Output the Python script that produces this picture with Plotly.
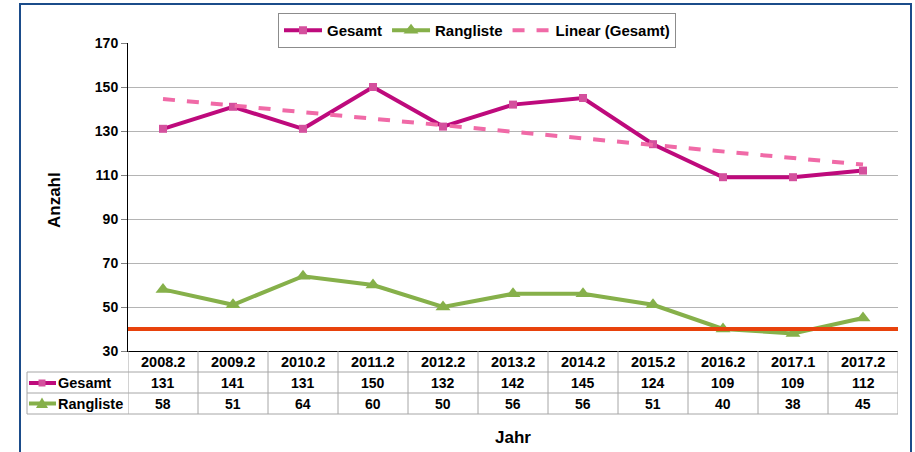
import numpy as np
import plotly.graph_objects as go

categories = ["2008.2", "2009.2", "2010.2", "2011.2", "2012.2", "2013.2",
              "2014.2", "2015.2", "2016.2", "2017.1", "2017.2"]
gesamt = [131, 141, 131, 150, 132, 142, 145, 124, 109, 109, 112]
rangliste = [58, 51, 64, 60, 50, 56, 56, 51, 40, 38, 45]
threshold = 40
y_ticks = [30, 50, 70, 90, 110, 130, 150, 170]

# Excel linear trendline of Gesamt (least squares)
xi = np.arange(len(gesamt))
slope, intercept = np.polyfit(xi, gesamt, 1)
trend = list(slope * xi + intercept)

C_GES = "#BE0A7C"
C_GES_M = "#D4509D"
C_TREND = "#F06AA7"
C_RANG = "#86B04A"
C_RED = "#E8420C"
C_GRID = "#B4B4B4"
C_TAB = "#A6A6A6"
FONT = "Liberation Sans, Arial, sans-serif"

W, H = 915, 452
L, R, T, B = 128, 898, 43, 351
pw, ph = R - L, B - T


def px(x):
    return (x - L) / pw


def py(y):
    return (B - y) / ph


fig = go.Figure()
fig.add_trace(go.Scatter(
    x=categories, y=gesamt, name="Gesamt", mode="lines+markers",
    line=dict(color=C_GES, width=4),
    marker=dict(symbol="square", size=8, color=C_GES_M)))
fig.add_trace(go.Scatter(
    x=categories, y=rangliste, name="Rangliste", mode="lines+markers",
    line=dict(color=C_RANG, width=4),
    marker=dict(symbol="triangle-up", size=13, color=C_RANG)))
fig.add_trace(go.Scatter(
    x=categories, y=trend, name="Linear (Gesamt)", mode="lines",
    line=dict(color=C_TREND, width=4, dash="dash")))

shapes = []
annotations = []

# threshold line
shapes.append(dict(type="line", xref="paper", yref="y", x0=0, x1=1,
                   y0=threshold, y1=threshold,
                   line=dict(color=C_RED, width=4), layer="above"))

# data table
row_lines = [py(372), py(393), py(414)]
for yl in row_lines:
    shapes.append(dict(type="line", xref="paper", yref="paper",
                       x0=px(27), x1=1.0, y0=yl, y1=yl,
                       line=dict(color=C_TAB, width=1)))
for i in range(len(categories) + 1):
    shapes.append(dict(type="line", xref="x", yref="paper",
                       x0=i - 0.5, x1=i - 0.5, y0=0, y1=py(414),
                       line=dict(color=C_TAB, width=1)))
shapes.append(dict(type="line", xref="paper", yref="paper",
                   x0=px(27), x1=px(27), y0=py(372), y1=py(414),
                   line=dict(color=C_TAB, width=1)))

hfont = dict(size=14.5, family=FONT, color="black", weight="bold")
tfont = dict(size=14, family=FONT, color="black", weight="bold")
row_y = [py(362), py(383), py(403.5)]
for i, c in enumerate(categories):
    for k, (ry, txt) in enumerate(zip(row_y, [c, str(gesamt[i]), str(rangliste[i])])):
        annotations.append(dict(x=i, y=ry, xref="x", yref="paper", text=txt,
                                xanchor="center", yanchor="middle",
                                showarrow=False, font=hfont if k == 0 else tfont))

# row legend keys
for name, yy, col, mcol, sym in [("Gesamt", 383, C_GES, C_GES_M, "sq"),
                                 ("Rangliste", 403.5, C_RANG, C_RANG, "tri")]:
    shapes.append(dict(type="line", xref="paper", yref="paper",
                       x0=px(29), x1=px(56), y0=py(yy), y1=py(yy),
                       line=dict(color=col, width=4)))
    if sym == "sq":
        shapes.append(dict(type="rect", xref="paper", yref="paper",
                           x0=px(38.5), x1=px(45.5), y0=py(yy + 3.5), y1=py(yy - 3.5),
                           fillcolor=mcol, line=dict(width=0)))
    else:
        shapes.append(dict(type="path", xref="paper", yref="paper",
                           path=f"M {px(36)},{py(yy + 4.5)} L {px(48)},{py(yy + 4.5)} L {px(42)},{py(yy - 6)} Z",
                           fillcolor=mcol, line=dict(width=0)))
    annotations.append(dict(x=px(56), y=py(yy), xref="paper", yref="paper", text=name,
                            xanchor="left", yanchor="middle", showarrow=False, font=hfont))

# axis titles
annotations.append(dict(x=px(513), y=py(437), xref="paper", yref="paper", text="Jahr",
                        xanchor="center", yanchor="middle", showarrow=False,
                        font=dict(size=17, family=FONT, color="black", weight="bold")))
annotations.append(dict(x=px(54), y=py(200), xref="paper", yref="paper", text="Anzahl",
                        textangle=-90, xanchor="center", yanchor="middle", showarrow=False,
                        font=dict(size=17, family=FONT, color="black", weight="bold")))

# outer blue frame
shapes.append(dict(type="path", xref="paper", yref="paper",
                   path=f"M {px(20)},{py(470)} L {px(20)},{py(4)} L {px(911)},{py(4)} L {px(911)},{py(470)}",
                   line=dict(color="#1B4C8A", width=2)))

fig.update_layout(
    width=W, height=H,
    margin=dict(l=L, r=W - R, t=T, b=H - B, autoexpand=False),
    paper_bgcolor="white", plot_bgcolor="white",
    font=dict(family=FONT, color="black"),
    showlegend=True,
    legend=dict(orientation="h", x=px(477), xanchor="center", y=py(13), yanchor="top",
                bordercolor="#8C8C8C", borderwidth=1, bgcolor="white",
                font=dict(size=15, family=FONT, color="black", weight="bold"),
                itemwidth=38, tracegroupgap=0),
    shapes=shapes, annotations=annotations,
    xaxis=dict(type="category", range=[-0.5, len(categories) - 0.5],
               showticklabels=False, showgrid=False, ticks="",
               showline=True, linecolor="black", linewidth=1, zeroline=False),
    yaxis=dict(range=[30, 170], tickvals=y_ticks, showgrid=True, gridcolor=C_GRID,
               gridwidth=1, ticks="outside", ticklen=6, tickcolor="#808080",
               showline=True, linecolor="black", linewidth=1, zeroline=False,
               tickfont=dict(size=14, family=FONT, color="black", weight="bold")),
)

fig.write_html("out.html", config={"displayModeBar": False},
               post_script="document.body.style.margin='0';document.body.style.overflow='hidden';")
